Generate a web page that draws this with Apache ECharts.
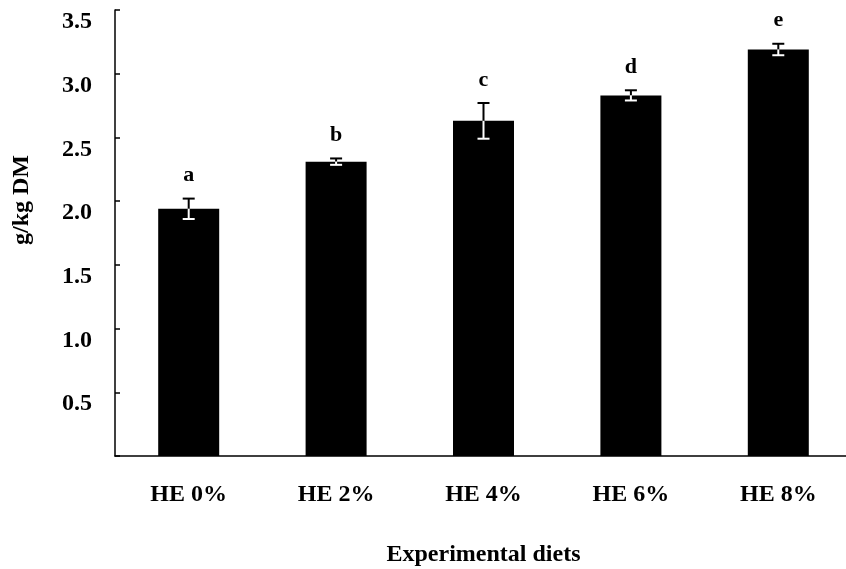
<!DOCTYPE html>
<html>
<head>
<meta charset="utf-8">
<script src="https://cdn.jsdelivr.net/npm/echarts@6/dist/echarts.min.js"></script>
<style>
  html, body { margin: 0; padding: 0; background: #fff; }
  #chart { width: 846px; height: 569px; }
</style>
</head>
<body>
<div id="chart"></div>
<script>
// Diet groups, mean content (g/kg DM), standard errors and significance letters
const diets = ['HE 0%', 'HE 2%', 'HE 4%', 'HE 6%', 'HE 8%'];
const means = [1.94, 2.31, 2.63, 2.83, 3.19];
const errors = [0.08, 0.025, 0.14, 0.04, 0.045];
const letters = ['a', 'b', 'c', 'd', 'e'];

const SERIF = '"Liberation Serif", "Times New Roman", serif';

const chart = echarts.init(document.getElementById('chart'));

// Error bars: black whisker above the bar top, white whisker inside the bar,
// plus the significance letter above the upper cap.
function renderErrorBar(params, api) {
  const idx = api.value(0);
  const mean = api.value(1);
  const se = api.value(2);
  const top = api.coord([idx, mean + se]);
  const mid = api.coord([idx, mean]);
  const bot = api.coord([idx, mean - se]);
  const x = mid[0];
  const half = 6;
  return {
    type: 'group',
    children: [
      { type: 'line', shape: { x1: x, y1: mid[1], x2: x, y2: top[1] },
        style: { stroke: '#000', lineWidth: 2 } },
      { type: 'line', shape: { x1: x - half, y1: top[1], x2: x + half, y2: top[1] },
        style: { stroke: '#000', lineWidth: 2 } },
      { type: 'line', shape: { x1: x, y1: mid[1], x2: x, y2: bot[1] },
        style: { stroke: '#fff', lineWidth: 2 } },
      { type: 'line', shape: { x1: x - half, y1: bot[1], x2: x + half, y2: bot[1] },
        style: { stroke: '#fff', lineWidth: 2 } },
      { type: 'text',
        style: {
          text: letters[idx], x: x, y: top[1] - 12,
          align: 'center', verticalAlign: 'bottom',
          fontFamily: SERIF, fontWeight: 'bold', fontSize: 22, fill: '#000'
        } }
    ]
  };
}

chart.setOption({
  animation: false,
  backgroundColor: '#fff',
  grid: { left: 115, top: 10, bottom: 113, right: -6, outerBoundsMode: 'none', containLabel: false },
  xAxis: {
    type: 'category',
    data: diets,
    name: 'Experimental diets',
    nameLocation: 'middle',
    nameGap: 87,
    nameTextStyle: { fontFamily: SERIF, fontWeight: 'bold', fontSize: 24, color: '#000' },
    axisLine: { lineStyle: { color: '#000', width: 1.5 } },
    axisTick: { inside: true, length: 5, lineStyle: { color: '#000', width: 1.5 } },
    axisLabel: { margin: 27, fontFamily: SERIF, fontWeight: 'bold', fontSize: 24, color: '#000' }
  },
  yAxis: {
    type: 'value',
    min: 0,
    max: 3.5,
    interval: 0.5,
    splitLine: { show: false },
    axisLine: { show: true, lineStyle: { color: '#000', width: 1.5 } },
    axisTick: { show: true, inside: true, length: 5, lineStyle: { color: '#000', width: 1.5 } },
    axisLabel: {
      margin: 23,
      verticalAlign: 'top',
      fontFamily: SERIF, fontWeight: 'bold', fontSize: 24, color: '#000',
      formatter: v => (v === 0 ? '' : v.toFixed(1))
    }
  },
  graphic: [{
    type: 'text',
    x: 22, y: 200,
    rotation: Math.PI / 2,
    style: {
      text: 'g/kg DM', align: 'center', verticalAlign: 'middle',
      fontFamily: SERIF, fontWeight: 'bold', fontSize: 24, fill: '#000'
    }
  }],
  series: [
    {
      type: 'bar',
      data: means,
      barWidth: 61,
      itemStyle: { color: '#000' }
    },
    {
      type: 'custom',
      renderItem: renderErrorBar,
      data: means.map((m, i) => [i, m, errors[i]]),
      z: 5
    }
  ]
});
</script>
</body>
</html>
